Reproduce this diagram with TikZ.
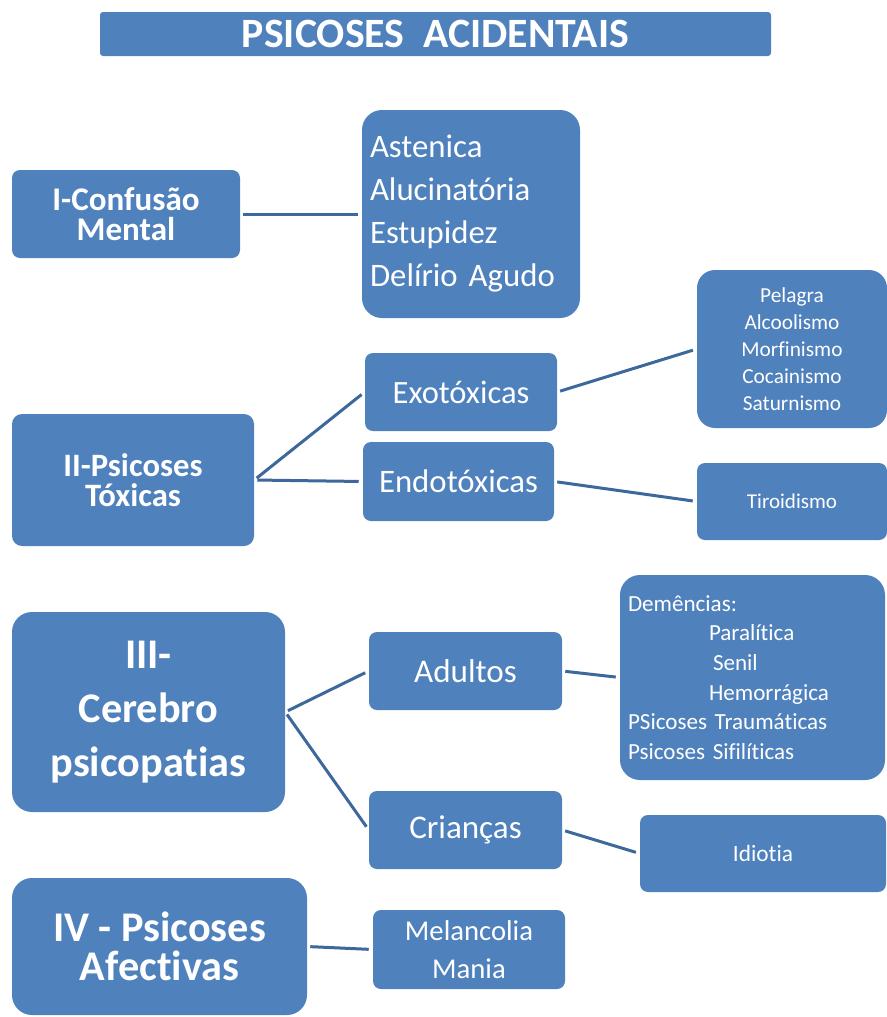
\documentclass[tikz,border=0pt]{standalone}
\usepackage{fontspec}
\setmainfont[Ligatures=NoCommon]{Carlito}
\newlength\px
\setlength\px{0.75pt}
\definecolor{boxblue}{RGB}{79,129,189}
\definecolor{linkblue}{RGB}{61,104,155}
\newcommand\fs[2]{\fontsize{#1}{#2}\selectfont}
\begin{document}
\begin{tikzpicture}[x=0.75pt,y=-0.75pt,
  card/.style={fill=boxblue, text=white, inner sep=0pt, align=center},
  link/.style={draw=linkblue, line width=3\px, shorten <=3\px, shorten >=4\px}]
\clip (0,0) rectangle (887,1017);
\fill[white] (0,0) rectangle (887,1017);

% title bar
\node[card, rounded corners=3\px, minimum width=671\px, minimum height=44\px,
  font=\fs{31.3}{36}\bfseries] (title) at (435.5,34) {PSICOSES\ \ ACIDENTAIS};

% I - confusao mental
\node[card, rounded corners=8\px, minimum width=228\px, minimum height=88\px,
  font=\fs{24.8}{22.5}\bfseries] (conf) at (126,214) {I-Confusão\\Mental};
\node[card, rounded corners=20\px, minimum width=218\px, minimum height=208\px,
  text width=202\px, align=left, font=\fs{24.6}{32.25}] (ast) at (471,214)
  {Astenica\\Alucinatória\\Estupidez\\Delírio Agudo};

% II - psicoses toxicas
\node[card, rounded corners=10\px, minimum width=242\px, minimum height=132\px,
  font=\fs{24.5}{22.5}\bfseries] (tox) at (133,480) {II-Psicoses\\Tóxicas};
\node[card, rounded corners=8\px, minimum width=192\px, minimum height=78\px,
  font=\fs{24.4}{30}] (exo) at (461,392) {Exotóxicas};
\node[card, rounded corners=8\px, minimum width=191\px, minimum height=79\px,
  font=\fs{24.6}{30}] (endo) at (458.5,481.5) {Endotóxicas};
\node[card, rounded corners=18\px, minimum width=190\px, minimum height=158\px,
  font=\fs{16}{20.25}] (pel) at (792,349)
  {Pelagra\\Alcoolismo\\Morfinismo\\Cocainismo\\Saturnismo};
\node[card, rounded corners=8\px, minimum width=190\px, minimum height=77\px,
  font=\fs{15.8}{20}] (tir) at (792,501.5) {Tiroidismo};

% III - cerebro psicopatias
\node[card, rounded corners=20\px, minimum width=273\px, minimum height=200\px,
  font=\fs{31.7}{40.5}\bfseries] (cer) at (148.5,712) {III-\\Cerebro\\psicopatias};
\node[card, rounded corners=8\px, minimum width=193\px, minimum height=78\px,
  font=\fs{24.8}{30}] (adu) at (465.5,671) {Adultos};
\node[card, rounded corners=8\px, minimum width=193\px, minimum height=78\px,
  font=\fs{24.8}{30}] (cri) at (465.5,830) {Crianças};
\node[card, rounded corners=20\px, minimum width=265\px, minimum height=205\px,
  text width=249\px, align=left, font=\fs{17.3}{22.2}] (dem) at (752.5,677.5)
  {Demências:\\\hspace*{81\px}Paralítica\\\hspace*{85\px}Senil\\\hspace*{81\px}Hemorrágica\\PSicoses Traumáticas\\Psicoses Sifilíticas};
\node[card, rounded corners=8\px, minimum width=246\px, minimum height=77\px,
  font=\fs{17.5}{21}] (idi) at (763,853.5) {Idiotia};

% IV - psicoses afectivas
\node[card, rounded corners=20\px, minimum width=295\px, minimum height=137\px,
  font=\fs{31.7}{29}\bfseries] (afe) at (159.5,946.5) {IV - Psicoses\\Afectivas};
\node[card, rounded corners=8\px, minimum width=192\px, minimum height=79\px,
  font=\fs{21.5}{28.5}] (mel) at (469,949.5) {Melancolia\\Mania};

% connectors
\draw[link] (conf.east) -- (ast.west);
\draw[link] (tox.east) -- (exo.west);
\draw[link] (tox.east) -- (endo.west);
\draw[link] (exo.east) -- (pel.west);
\draw[link] (endo.east) -- (tir.west);
\draw[link] (cer.east) -- (adu.west);
\draw[link] (cer.east) -- (cri.west);
\draw[link] (adu.east) -- (dem.west);
\draw[link] (cri.east) -- (idi.west);
\draw[link] (afe.east) -- (mel.west);
\end{tikzpicture}
\end{document}
